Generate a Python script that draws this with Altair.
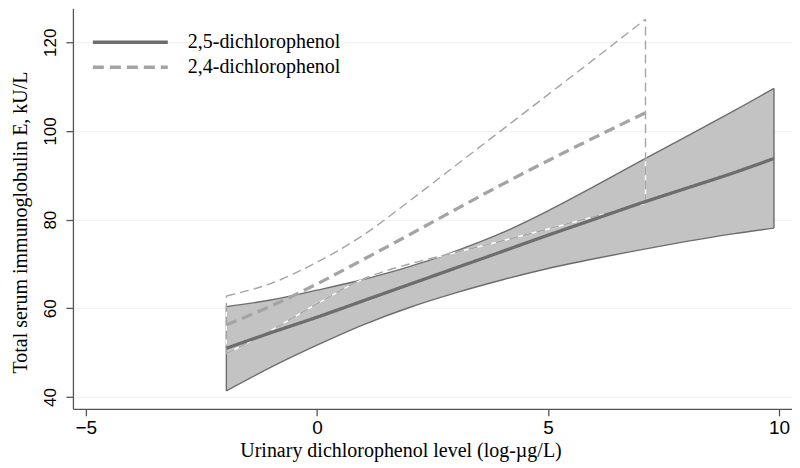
import altair as alt
import pandas as pd

S25 = "2,5-dichlorophenol"
S24 = "2,4-dichlorophenol"

# 2,5-dichlorophenol: fit and 95% CI
x25 = [-1.96, -1, 0, 1, 2, 3, 4, 5, 6, 7, 8, 9, 9.89]
fit25 = [51.0, 54.5, 58.0, 61.7, 65.4, 69.1, 72.8, 76.5, 80.1, 83.7, 87.1, 90.5, 93.8]
lo25 = [41.4, 46.7, 51.7, 56.3, 60.2, 63.5, 66.4, 69.0, 71.2, 73.2, 75.1, 76.8, 78.1]
hi25 = [60.4, 61.9, 64.1, 66.5, 69.4, 72.9, 77.0, 82.0, 87.5, 93.2, 98.8, 104.4, 109.6]

# 2,4-dichlorophenol: fit and 95% CI
x24 = [-1.96, -1, 0, 1, 2, 3, 4, 5, 6, 7.11]
fit24 = [56.3, 60.5, 65.5, 71.0, 76.6, 82.3, 87.9, 93.3, 98.5, 104.1]
lo24 = [49.8, 55.0, 61.0, 66.6, 70.0, 72.6, 75.2, 77.9, 80.7, 83.7]
hi24 = [62.8, 65.6, 70.4, 76.5, 84.2, 92.2, 100.2, 108.2, 116.2, 125.2]

x_ticks = [-5, 0, 5, 10]
y_ticks = [40, 60, 80, 100, 120]

XT = "Urinary dichlorophenol level (log-\u00b5g/L)"
YT = "Total serum immunoglobulin E, kU/L"

d25 = pd.DataFrame({"x": x25, "fit": fit25, "lo": lo25, "hi": hi25})
d24 = pd.DataFrame({"x": x24, "fit": fit24, "lo": lo24, "hi": hi24})
fits = pd.concat([
    pd.DataFrame({"x": x25, "y": fit25, "series": S25}),
    pd.DataFrame({"x": x24, "y": fit24, "series": S24}),
])
ends25 = pd.DataFrame({"x": [x25[0], x25[-1]], "lo": [lo25[0], lo25[-1]], "hi": [hi25[0], hi25[-1]]})
ends24 = pd.DataFrame({"x": [x24[0], x24[-1]], "lo": [lo24[0], lo24[-1]], "hi": [hi24[0], hi24[-1]]})

xs = alt.Scale(domain=[-5.28, 10.28], nice=False, zero=False)
ys = alt.Scale(domain=[37.36, 127.66], nice=False, zero=False)

def X(f="x"):
    return alt.X(f"{f}:Q", scale=xs, title=XT, axis=alt.Axis(values=x_ticks))

def Y(f):
    return alt.Y(f"{f}:Q", scale=ys, title=YT, axis=alt.Axis(values=y_ticks))

BAND_FILL = "#c3c3c3"
DARK = "#6d6d6d"
LIGHT = "#a4a4a4"

band = alt.Chart(d25).mark_area(color=BAND_FILL, opacity=1, interpolate="monotone").encode(
    x=X(), y=Y("lo"), y2="hi:Q")
band_hi = alt.Chart(d25).mark_line(color=DARK, strokeWidth=1.4, interpolate="monotone").encode(x=X(), y=Y("hi"))
band_lo = alt.Chart(d25).mark_line(color=DARK, strokeWidth=1.4, interpolate="monotone").encode(x=X(), y=Y("lo"))
band_ends = alt.Chart(ends25).mark_rule(color=DARK, strokeWidth=1.4).encode(x=X(), y=Y("lo"), y2="hi:Q")

ci_layers = []
for col, dash in [("white", None), (LIGHT, [9, 5])]:
    kw = dict(color=col, strokeWidth=1.4, interpolate="monotone")
    rk = dict(color=col, strokeWidth=1.4)
    if dash:
        kw["strokeDash"] = dash
        rk["strokeDash"] = dash
    ci_layers.append(alt.Chart(d24).mark_line(**kw).encode(x=X(), y=Y("hi")))
    ci_layers.append(alt.Chart(d24).mark_line(**kw).encode(x=X(), y=Y("lo")))
    ci_layers.append(alt.Chart(ends24).mark_rule(**rk).encode(x=X(), y=Y("lo"), y2="hi:Q"))

fit_lines = alt.Chart(fits).mark_line(strokeWidth=3.3, interpolate="monotone").encode(
    x=X(), y=Y("y"),
    color=alt.Color("series:N", scale=alt.Scale(domain=[S25, S24], range=[DARK, LIGHT]), title=None,
                    sort=[S25, S24]),
    strokeDash=alt.StrokeDash("series:N", scale=alt.Scale(domain=[S25, S24], range=[[1, 0], [11, 6]]),
                              title=None, sort=[S25, S24]),
)

chart = alt.layer(band, band_hi, band_lo, band_ends, *ci_layers, fit_lines).properties(
    width=720, height=401,
    autosize=alt.AutoSizeParams(type="none"),
    padding={"left": 65, "top": 0, "right": 0, "bottom": 55},
    background="white",
).configure_view(stroke=None).configure_axis(
    domainColor="#555555", domainWidth=1.3, tickColor="#555555", tickWidth=1.3, tickSize=7,
    gridColor="#eef1f1", gridWidth=1, labelColor="black", labelFont="Liberation Sans",
    titleFont="Liberation Serif", titleFontSize=20, titleFontWeight="normal", titleColor="black",
).configure_axisX(
    grid=False, labelFontSize=19, labelPadding=3, labelFlush=False,
    titleX=328, titleY=48, titleAlign="center", titleBaseline="alphabetic",
).configure_axisY(
    grid=True, labelFontSize=17, labelAngle=270, labelAlign="center", labelBaseline="bottom",
    labelPadding=6, titleAngle=270, titleX=-46, titleY=214, titleAlign="center", titleBaseline="alphabetic",
).configure_legend(
    orient="none", legendX=18, legendY=24, padding=0, symbolType="stroke", symbolSize=5625,
    symbolStrokeWidth=3.5, labelFont="Liberation Serif", labelFontSize=20, labelColor="black",
    labelOffset=18, rowPadding=5, clipHeight=20,
)

chart.save("out.html", embed_options={"renderer": "svg", "actions": False})
